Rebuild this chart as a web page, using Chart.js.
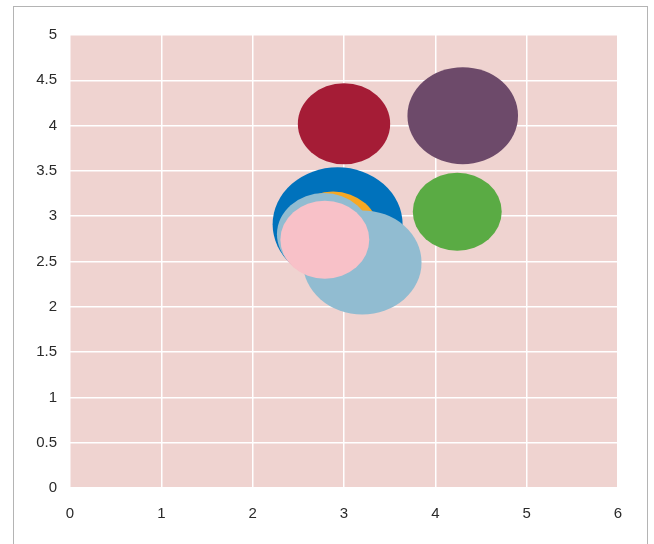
<!DOCTYPE html>
<html>
<head>
<meta charset="utf-8">
<script src="https://cdn.jsdelivr.net/npm/chart.js@4/dist/chart.umd.min.js"></script>
<style>
  html, body { margin: 0; padding: 0; background: #ffffff; }
  #frame { position: absolute; left: 13px; top: 6px; width: 635px; height: 600px; border: 1px solid #b4b4b4; box-sizing: border-box; }
  #wrap { position: absolute; left: 0; top: 0; width: 654px; height: 544px; }
</style>
</head>
<body>
<div id="frame"></div>
<div id="wrap"><canvas id="c" width="654" height="544"></canvas></div>
<script>
// Series (back-to-front order)
const seriesNames = ["Blue", "Orange", "Light blue", "Pink", "Burgundy", "Purple", "Green"];
const seriesX = [[2.93], [2.88], [2.78, 3.20], [2.79], [3.00], [4.30], [4.24]];
const seriesY = [[2.91], [2.83], [2.80, 2.49], [2.74], [4.02], [4.11], [3.05]];
const seriesR = [[57], [40], [41.2, 52], [39], [40.5], [48.5], [39]];
const seriesColors = ["#0072bc", "#f7a823", "#91bcd1", "#f8c1c8", "#a51c36", "#6d4a6a", "#5aab44"];
const xTicks = [0, 1, 2, 3, 4, 5, 6];
const yTicks = [0, 0.5, 1, 1.5, 2, 2.5, 3, 3.5, 4, 4.5, 5];

// Bubbles in the reference are slightly wider than tall
const PE = Chart.elements.PointElement;
const origDraw = PE.prototype.draw;
PE.prototype.draw = function (ctx, area) {
  ctx.save();
  ctx.translate(this.x, this.y);
  ctx.scale(1.14, 1);
  ctx.translate(-this.x, -this.y);
  origDraw.call(this, ctx, area);
  ctx.restore();
};

const datasets = seriesNames.map((name, i) => ({
  label: name,
  data: seriesX[i].map((x, j) => ({ x: x, y: seriesY[i][j], r: seriesR[i][j] })),
  backgroundColor: seriesColors[i],
  borderWidth: 0,
  hoverBorderWidth: 0,
  hoverRadius: 0
})).reverse();

const plotBg = {
  id: 'plotBg',
  beforeDraw(chart) {
    const { ctx, chartArea: a } = chart;
    ctx.save();
    ctx.fillStyle = '#efd3d0';
    ctx.fillRect(a.left, a.top, a.right - a.left, a.bottom - a.top);
    ctx.restore();
  }
};

const font = { family: "'Liberation Sans Narrow', 'Liberation Sans', Arial, sans-serif", size: 15 };

new Chart(document.getElementById('c'), {
  type: 'bubble',
  data: { datasets: datasets },
  options: {
    responsive: false,
    animation: false,
    events: [],
    clip: false,
    layout: { autoPadding: false, padding: { left: 0, top: 35, right: 36, bottom: 0 } },
    plugins: { legend: { display: false }, tooltip: { enabled: false } },
    scales: {
      x: {
        type: 'linear', min: 0, max: 6,
        afterBuildTicks(s) { s.ticks = xTicks.map(v => ({ value: v })); },
        afterFit(s) { s.height = 56; },
        grid: { color: '#ffffff', lineWidth: 1.5, drawTicks: false },
        border: { display: false },
        ticks: { font: font, color: '#2a2a2a', padding: 17, maxRotation: 0, callback: v => String(v) }
      },
      y: {
        type: 'linear', min: 0, max: 5,
        afterBuildTicks(s) { s.ticks = yTicks.map(v => ({ value: v })); },
        afterFit(s) { s.width = 70; },
        grid: { color: '#ffffff', lineWidth: 1.5, drawTicks: false },
        border: { display: false },
        ticks: { font: font, color: '#2a2a2a', padding: 13, callback: v => String(v) }
      }
    }
  },
  plugins: [plotBg]
});
</script>
</body>
</html>
